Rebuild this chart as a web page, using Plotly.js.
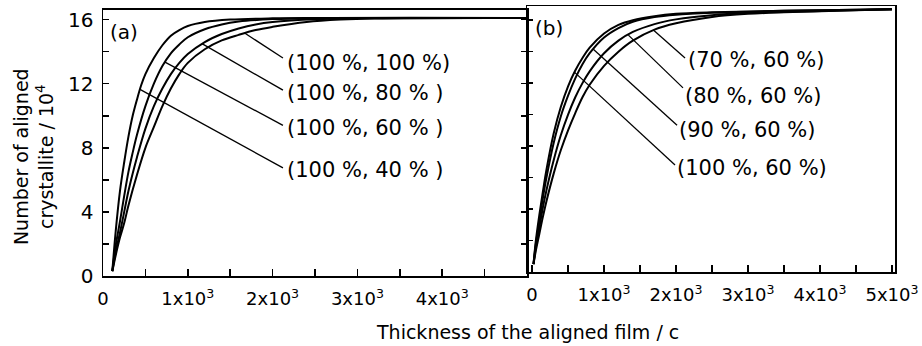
<!DOCTYPE html>
<html><head><meta charset="utf-8">
<script src="https://cdn.plot.ly/plotly-3.0.1.min.js"></script>
<style>html,body{margin:0;padding:0;background:#fff}#chart{width:922px;height:346px}</style>
</head><body><div id="chart"></div>
<script>
// ---------- Panel (a): (100%, X%) ----------
const a_x_40  = [110,150,200,250,300,350,400,450,500,600,700,800,900,1000,1200,1500,2000,2500,5000];
const a_y_40  = [0.3,2.8,5.3,7.1,8.7,10.0,11.0,11.9,12.6,13.6,14.4,15.0,15.35,15.6,15.85,16.0,16.08,16.1,16.1];
const a_x_60  = [110,150,200,250,300,350,400,500,600,700,800,900,1000,1200,1400,1600,2000,2500,5000];
const a_y_60  = [0.3,1.9,3.4,5.0,6.5,7.7,8.8,10.6,12.0,13.1,13.9,14.45,14.9,15.4,15.7,15.88,16.03,16.09,16.1];
const a_x_80  = [110,150,200,250,300,350,400,500,600,700,800,900,1000,1200,1400,1600,1800,2000,2500,3000,5000];
const a_y_80  = [0.3,1.5,2.7,4.0,5.3,6.4,7.4,9.2,10.6,11.7,12.6,13.3,13.85,14.6,15.1,15.45,15.7,15.85,16.02,16.08,16.1];
const a_x_100 = [110,150,200,250,300,400,500,600,700,800,900,1000,1200,1400,1600,1800,2000,2400,2800,3200,5000];
const a_y_100 = [0.3,1.3,2.4,3.3,4.4,6.3,8.0,9.3,10.6,11.7,12.6,13.3,14.15,14.7,15.05,15.35,15.55,15.85,16.0,16.07,16.1];

// ---------- Panel (b): (X%, 60%) ----------
const b_x_100 = [20,50,100,150,200,300,400,500,600,700,800,1000,1200,1400,1700,2000,2500,3500,5000];
const b_y_100 = [0.5,1.9,3.6,5.1,6.5,8.8,10.5,11.8,12.8,13.6,14.25,15.15,15.7,16.0,16.25,16.4,16.5,16.6,16.7];
const b_x_90  = [20,50,100,150,200,300,400,500,600,700,800,1000,1200,1400,1700,2000,2500,3500,5000];
const b_y_90  = [0.5,1.7,3.2,4.7,6.0,8.2,9.9,11.2,12.3,13.2,13.9,14.9,15.5,15.9,16.2,16.35,16.47,16.6,16.7];
const b_x_80  = [20,50,100,150,200,300,400,500,600,700,800,1000,1200,1400,1700,2000,2500,3000,5000];
const b_y_80  = [0.5,1.5,2.8,4.1,5.2,7.1,8.7,10.0,11.1,12.0,12.75,13.9,14.7,15.25,15.75,16.05,16.32,16.45,16.7];
const b_x_70  = [20,50,100,150,200,300,400,500,600,700,800,1000,1200,1400,1700,2000,2500,3000,3500,5000];
const b_y_70  = [0.5,1.3,2.4,3.5,4.5,6.25,7.75,9.0,10.1,11.1,11.9,13.1,14.0,14.7,15.4,15.8,16.2,16.4,16.5,16.7];

// ---------- Curve labels and leader lines ----------
const a_labels   = ["(100 %, 100 %)","(100 %, 80 % )","(100 %, 60 % )","(100 %, 40 % )"];
const a_label_x  = [2146,2146,2146,2146];
const a_label_y  = [13.3,11.4,9.25,6.6];
const a_lead_x0  = [1674,1167,731,436];
const a_lead_y0  = [15.15,14.5,13.35,11.65];
const a_lead_x1  = [2122,2122,2122,2122];
const a_lead_y1  = [13.6,11.6,9.4,6.75];

const b_labels   = ["(70 %, 60 %)","(80 %, 60 %)","(90 %, 60 %)","(100 %, 60 %)"];
const b_label_x  = [2139,2097,2014,1986];
const b_label_y  = [13.46,11.2,9.0,6.6];
const b_lead_x0  = [1685,1338,851,588];
const b_lead_y0  = [15.38,15.05,14.15,12.7];
const b_lead_x1  = [2125,2097,2014,1986];
const b_lead_y1  = [13.6,11.7,9.33,6.8];

// ---------- Tick labels ----------
const a_xtickvals = [0,1000,2000,3000,4000];
const a_xticktext = ["0","1x10<sup>3</sup>","2x10<sup>3</sup>","3x10<sup>3</sup>","4x10<sup>3</sup>"];
const b_xtickvals = [0,1000,2000,3000,4000,5000];
const b_xticktext = ["0","1x10<sup>3</sup>","2x10<sup>3</sup>","3x10<sup>3</sup>","4x10<sup>3</sup>","5x10<sup>3</sup>"];
const x_minorvals = [500,1500,2500,3500,4500];
const ytickvals = [0,4,8,12,16];
const yticktext = ["0","4","8","12","16"];
const y_minorvals = [2,6,10,14];

const FONT = "DejaVu Sans";
const curve = (x,y,xa,ya) => ({x:x,y:y,xaxis:xa,yaxis:ya,type:'scatter',mode:'lines',
  line:{color:'#000',width:2,shape:'spline',smoothing:1},hoverinfo:'skip',showlegend:false});
const lead = (x0,y0,x1,y1,xa,ya) => ({x:[x0,x1],y:[y0,y1],xaxis:xa,yaxis:ya,type:'scatter',mode:'lines',
  line:{color:'#000',width:1.3},hoverinfo:'skip',showlegend:false});

const traces = [
  curve(a_x_40,a_y_40,'x','y'), curve(a_x_60,a_y_60,'x','y'),
  curve(a_x_80,a_y_80,'x','y'), curve(a_x_100,a_y_100,'x','y'),
  curve(b_x_100,b_y_100,'x2','y2'), curve(b_x_90,b_y_90,'x2','y2'),
  curve(b_x_80,b_y_80,'x2','y2'), curve(b_x_70,b_y_70,'x2','y2')
];
for (let i=0;i<4;i++){
  traces.push(lead(a_lead_x0[i],a_lead_y0[i],a_lead_x1[i],a_lead_y1[i],'x','y'));
  traces.push(lead(b_lead_x0[i],b_lead_y0[i],b_lead_x1[i],b_lead_y1[i],'x2','y2'));
}

const annotations = [];
for (let i=0;i<4;i++){
  annotations.push({x:a_label_x[i],y:a_label_y[i],xref:'x',yref:'y',text:a_labels[i],showarrow:false,
    xanchor:'left',yanchor:'middle',font:{family:FONT,size:21,color:'#000'}});
  annotations.push({x:b_label_x[i],y:b_label_y[i],xref:'x2',yref:'y2',text:b_labels[i],showarrow:false,
    xanchor:'left',yanchor:'middle',font:{family:FONT,size:21,color:'#000'}});
}
annotations.push({x:59,y:15.2,xref:'x',yref:'y',text:'(a)',showarrow:false,xanchor:'left',yanchor:'middle',
  font:{family:FONT,size:20,color:'#000'}});
annotations.push({x:14,y:15.5,xref:'x2',yref:'y2',text:'(b)',showarrow:false,xanchor:'left',yanchor:'middle',
  font:{family:FONT,size:20,color:'#000'}});
annotations.push({x:-0.0884,y:0.444,xref:'paper',yref:'paper',textangle:-90,showarrow:false,
  text:'Number of aligned<br>crystallite / 10<sup>4</sup>',xanchor:'center',yanchor:'middle',
  font:{family:FONT,size:19,color:'#000'}});
annotations.push({x:0.5366,y:-0.207,xref:'paper',yref:'paper',showarrow:false,
  text:'Thickness of the aligned film / c',xanchor:'center',yanchor:'middle',
  font:{family:FONT,size:19,color:'#000'}});

const minorX = {tickmode:'array',tickvals:x_minorvals,ticks:'inside',ticklen:7,tickwidth:1.5,tickcolor:'#000',showgrid:false};
const minorY = {tickmode:'array',tickvals:y_minorvals,ticks:'inside',ticklen:6,tickwidth:1.5,tickcolor:'#000',showgrid:false};
const axBase = {showgrid:false,zeroline:false,showline:true,linecolor:'#000',linewidth:1.5,
  ticks:'inside',ticklen:7,tickwidth:1.5,tickcolor:'#000',tickfont:{family:FONT,size:18,color:'#000'}};

const layout = {
  width:922,height:346,margin:{l:103,r:27,t:6,b:70},
  paper_bgcolor:'#fff',plot_bgcolor:'#fff',showlegend:false,
  xaxis:Object.assign({},axBase,{domain:[0,0.5354],range:[0,5000],anchor:'y',mirror:true,
    tickmode:'array',tickvals:a_xtickvals,ticktext:a_xticktext,ticklabelstandoff:6,minor:minorX}),
  yaxis:Object.assign({},axBase,{domain:[0,0.9852],range:[0,16.6],anchor:'x',mirror:'ticks',ticklen:6,
    tickmode:'array',tickvals:ytickvals,ticktext:yticktext,ticklabelstandoff:4,minor:minorY,
    tickfont:{family:FONT,size:20,color:'#000'}}),
  xaxis2:Object.assign({},axBase,{domain:[0.5354,1],range:[-70,5042],anchor:'y2',mirror:true,
    tickmode:'array',tickvals:b_xtickvals,ticktext:b_xticktext,ticklabelstandoff:6,minor:minorX}),
  yaxis2:Object.assign({},axBase,{domain:[0.0148,1],range:[0,16.9],anchor:'x2',mirror:true,ticklen:6,
    tickmode:'array',tickvals:ytickvals,showticklabels:false,minor:minorY}),
  annotations:annotations
};

Plotly.newPlot('chart',traces,layout,{staticPlot:true,displayModeBar:false});
</script></body></html>
